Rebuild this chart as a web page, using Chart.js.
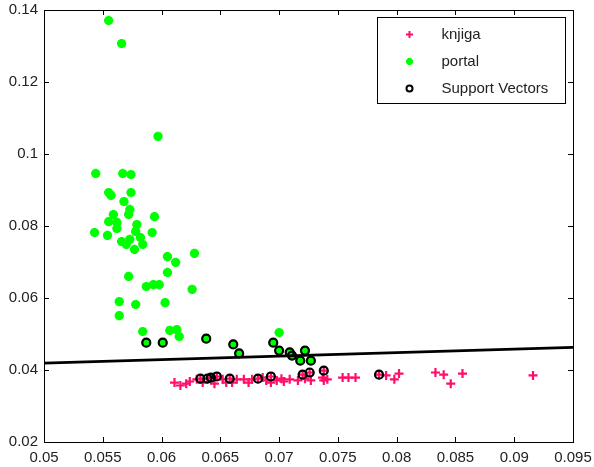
<!DOCTYPE html>
<html><head><meta charset="utf-8">
<script src="https://cdn.jsdelivr.net/npm/chart.js@4.4.1/dist/chart.umd.min.js"></script>
<style>html,body{margin:0;padding:0;background:#fff;}canvas{display:block;}</style>
</head><body>
<canvas id="c" width="594" height="467"></canvas>
<script>
// ---- data ----
const knjigaX = [0.0611,0.0616,0.0621,0.0624,0.0630,0.0635,0.0645,0.0652,0.0655,0.0660,0.0664,0.0670,0.0674,0.0677,0.0686,0.0689,0.0693,0.0698,0.0702,0.0704,0.0709,0.0716,0.0722,0.0727,0.0737,0.0738,0.0741,0.0754,0.0759,0.0765,0.0791,0.0798,0.0802,0.0833,0.0840,0.0846,0.0856,0.0916,
                 0.0633,0.0639,0.0642,0.0647,0.0658,0.0682,0.0693,0.0720,0.0726,0.0738,0.0785];
const knjigaY = [0.0365,0.0357,0.0362,0.0368,0.0374,0.0365,0.0362,0.0374,0.0365,0.0365,0.0374,0.0374,0.0365,0.0374,0.0379,0.0371,0.0365,0.0371,0.0376,0.0368,0.0374,0.0371,0.0376,0.0371,0.0379,0.0371,0.0374,0.0379,0.0379,0.0379,0.0385,0.0374,0.0390,0.0393,0.0387,0.0362,0.0390,0.0385,
                 0.0376,0.0376,0.0379,0.0382,0.0376,0.0376,0.0382,0.0387,0.0393,0.0398,0.0387];
const portalX = [0.0555,0.0566,0.0597,0.0544,0.0567,0.0574,0.0555,0.0557,0.0574,0.0568,0.0573,0.0572,0.0559,0.0555,0.0562,0.0594,0.0543,0.0554,0.0562,0.0579,0.0578,0.0592,0.0566,0.0570,0.0573,0.0582,0.0584,0.0577,0.0605,0.0612,0.0628,0.0605,0.0572,0.0593,0.0587,0.0598,0.0626,0.0564,0.0578,0.0603,0.0564,0.0584,0.0607,0.0613,0.0615,0.0700,
                 0.0587,0.0601,0.0638,0.0661,0.0666,0.0695,0.0700,0.0709,0.0711,0.0718,0.0722,0.0727];
const portalY = [0.1371,0.1307,0.1049,0.0946,0.0946,0.0943,0.0893,0.0885,0.0893,0.0868,0.0846,0.0832,0.0832,0.0812,0.0810,0.0826,0.0782,0.0774,0.0793,0.0804,0.0785,0.0782,0.0757,0.0749,0.0763,0.0768,0.0749,0.0735,0.0715,0.0699,0.0724,0.0671,0.0660,0.0637,0.0632,0.0637,0.0624,0.0590,0.0582,0.0587,0.0551,0.0507,0.0510,0.0512,0.0493,0.0504,
                 0.0476,0.0476,0.0487,0.0471,0.0446,0.0476,0.0454,0.0449,0.0440,0.0426,0.0454,0.0426];
const svX = [0.0633,0.0639,0.0642,0.0647,0.0658,0.0682,0.0693,0.0720,0.0726,0.0738,0.0785,
             0.0587,0.0601,0.0638,0.0661,0.0666,0.0695,0.0700,0.0709,0.0711,0.0718,0.0722,0.0727];
const svY = [0.0376,0.0376,0.0379,0.0382,0.0376,0.0376,0.0382,0.0387,0.0393,0.0398,0.0387,
             0.0476,0.0476,0.0487,0.0471,0.0446,0.0476,0.0454,0.0449,0.0440,0.0426,0.0454,0.0426];
const boundaryX = [0.05, 0.095];
const boundaryY = [0.0419, 0.0463];
const seriesLabels = ['knjiga', 'portal', 'Support Vectors'];
const xTickValues = [0.05,0.055,0.06,0.065,0.07,0.075,0.08,0.085,0.09,0.095];
const xTickLabels = ['0.05','0.055','0.06','0.065','0.07','0.075','0.08','0.085','0.09','0.095'];
const yTickValues = [0.02,0.04,0.06,0.08,0.1,0.12,0.14];
const yTickLabels = ['0.02','0.04','0.06','0.08','0.1','0.12','0.14'];

const pts = (xs, ys) => xs.map((x, i) => ({x: x, y: ys[i]}));
const FONT = '"Liberation Sans", Arial, sans-serif';
const PINK = '#ff0f6a', GREEN = '#00ff00';

const boxPlugin = {
  id: 'matlabBox',
  afterDraw(chart) {
    const {ctx, chartArea: a, scales} = chart;
    ctx.save();
    ctx.strokeStyle = '#000';
    ctx.lineWidth = 1;
    ctx.strokeRect(Math.round(a.left) + 0.5, Math.round(a.top) + 0.5, Math.round(a.right - a.left), Math.round(a.bottom - a.top));
    const L = 5;
    ctx.beginPath();
    xTickValues.forEach(v => {
      const px = Math.round(scales.x.getPixelForValue(v)) + 0.5;
      ctx.moveTo(px, a.bottom); ctx.lineTo(px, a.bottom - L);
      ctx.moveTo(px, a.top); ctx.lineTo(px, a.top + L);
    });
    yTickValues.forEach(v => {
      const py = Math.round(scales.y.getPixelForValue(v)) + 0.5;
      ctx.moveTo(a.left, py); ctx.lineTo(a.left + L, py);
      ctx.moveTo(a.right, py); ctx.lineTo(a.right - L, py);
    });
    ctx.stroke();
    // legend
    const bw = 188, bh = 86;
    const bx = Math.round(a.right - bw - 8) + 0.5, by = Math.round(a.top + 7) + 0.5;
    ctx.fillStyle = '#fff';
    ctx.fillRect(bx, by, bw, bh);
    ctx.strokeRect(bx, by, bw, bh);
    const styles = [
      {pointStyle: 'cross', radius: 3.5, borderWidth: 2, borderColor: PINK, backgroundColor: PINK},
      {pointStyle: 'star', radius: 3.5, borderWidth: 2.5, borderColor: GREEN, backgroundColor: GREEN},
      {pointStyle: 'circle', radius: 3, borderWidth: 2, borderColor: '#000', backgroundColor: 'rgba(0,0,0,0)'}
    ];
    ctx.font = '15px ' + FONT;
    ctx.textBaseline = 'middle';
    seriesLabels.forEach((lab, i) => {
      const cy = by + 17 + i * 27;
      ctx.strokeStyle = styles[i].borderColor;
      ctx.fillStyle = styles[i].backgroundColor;
      ctx.lineWidth = styles[i].borderWidth;
      Chart.helpers.drawPoint(ctx, styles[i], bx + 32, cy);
      ctx.fillStyle = '#222';
      ctx.fillText(lab, bx + 64, cy);
    });
    ctx.restore();
  }
};

new Chart(document.getElementById('c'), {
  type: 'scatter',
  data: {
    datasets: [
      {label: 'boundary', type: 'line', data: pts(boundaryX, boundaryY), borderColor: '#000', borderWidth: 2.8, pointRadius: 0, fill: false, order: 0},
      {label: seriesLabels[2], data: pts(svX, svY), pointStyle: 'circle', pointRadius: 4, borderWidth: 2.2, borderColor: '#000', backgroundColor: 'rgba(0,0,0,0)', order: 1},
      {label: seriesLabels[1], data: pts(portalX, portalY), pointStyle: 'star', pointRadius: 4.6, borderWidth: 3, borderColor: GREEN, backgroundColor: GREEN, order: 2},
      {label: seriesLabels[0], data: pts(knjigaX, knjigaY), pointStyle: 'cross', pointRadius: 4.5, borderWidth: 2.2, borderColor: PINK, backgroundColor: PINK, order: 3}
    ]
  },
  options: {
    responsive: false,
    animation: false,
    layout: {padding: {left: 0, right: 21, top: 10, bottom: 0}},
    plugins: {legend: {display: false}, tooltip: {enabled: false}},
    scales: {
      x: {
        type: 'linear', min: 0.05, max: 0.095,
        afterBuildTicks: s => { s.ticks = xTickValues.map(v => ({value: v})); },
        afterFit: s => { s.height = 25; s.paddingLeft = 0; s.paddingRight = 0; },
        grid: {display: false, drawTicks: false},
        border: {display: false},
        ticks: {callback: (v, i) => xTickLabels[i], color: '#222', font: {family: FONT, size: 15}, padding: 7, maxRotation: 0, autoSkip: false}
      },
      y: {
        type: 'linear', min: 0.02, max: 0.14,
        afterBuildTicks: s => { s.ticks = yTickValues.map(v => ({value: v})); },
        afterFit: s => { s.width = 44; s.paddingTop = 0; s.paddingBottom = 0; },
        grid: {display: false, drawTicks: false},
        border: {display: false},
        ticks: {callback: (v, i) => yTickLabels[i], color: '#222', font: {family: FONT, size: 15}, padding: 6, autoSkip: false}
      }
    }
  },
  plugins: [boxPlugin]
});
</script>
</body></html>
